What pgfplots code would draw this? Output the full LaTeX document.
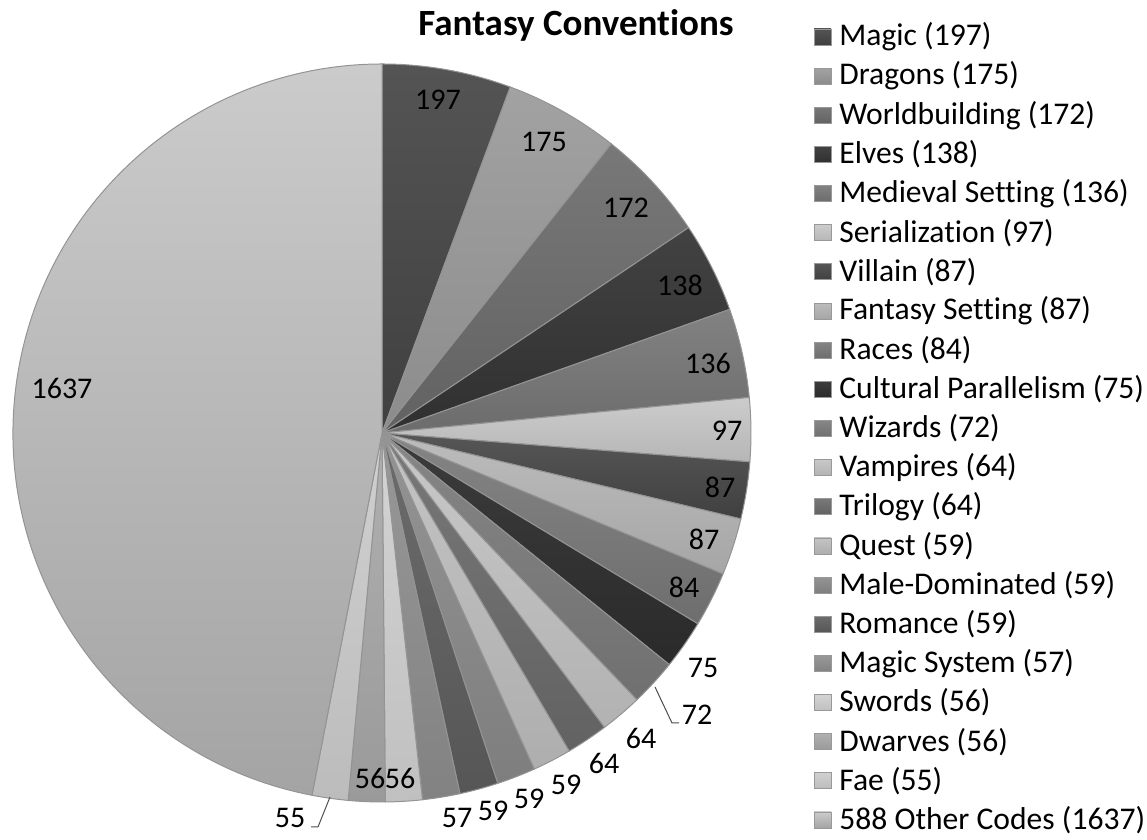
\documentclass[border=0pt]{standalone}
\usepackage{fontspec}
\setmainfont{Carlito}[Ligatures={NoCommon}]
\usepackage{pgfplots}
\usepackage{pgfplotstable}
\pgfplotsset{compat=1.18}

% value, gray level at top and bottom of each slice (0-255), label position in px
\pgfplotstableread[col sep=comma]{
name,value,gtop,gbot,lx,ly
Magic,197,84,64,438,740
Dragons,175,162,140,544,698
Worldbuilding,172,120,98,626,632
Elves,138,66,48,680,555
Medieval Setting,136,130,108,708,477
Serialization,97,204,182,727,409
Villain,87,86,64,720,353
Fantasy Setting,87,188,166,704,301
Races,84,132,110,684,253
Cultural Parallelism,75,60,42,703,172
Wizards,72,134,112,697,125
Vampires,64,200,178,641,102
Trilogy,64,120,98,604,77
Quest,59,196,174,566,55
Male-Dominated,59,148,126,529,41
Romance,59,108,86,493,29
Magic System,57,152,130,457,22
Swords,56,212,192,400,62
Dwarves,56,176,154,370,62
Fae,55,208,188,290,22
588 Other Codes,1637,203,164,62,452
}\pie

\pgfplotstablegetrowsof{\pie}
\pgfmathtruncatemacro\N{\pgfplotsretval-1}
\def\total{0}
\pgfplotsforeachungrouped \i in {0,...,\N}{%
  \pgfplotstablegetelem{\i}{value}\of\pie
  \pgfmathsetmacro\total{\total+\pgfplotsretval}%
}
\newcommand\lfont{\fontsize{15.8}{18}\selectfont}
\newcommand\vfont{\fontsize{15}{17}\selectfont}

\begin{document}
\begin{tikzpicture}
\begin{axis}[x=0.5pt,y=0.5pt,xmin=0,xmax=1147,ymin=0,ymax=840,hide axis,clip=false]
\coordinate (bl) at (axis cs:0,0);
\coordinate (tr) at (axis cs:1147,840);
\def\cum{0}
\pgfplotsforeachungrouped \i in {0,...,\N}{%
  \pgfplotstablegetelem{\i}{value}\of\pie \let\v\pgfplotsretval
  \pgfplotstablegetelem{\i}{gtop}\of\pie \pgfmathsetmacro\pt{100-\pgfplotsretval/2.55}%
  \pgfplotstablegetelem{\i}{gbot}\of\pie \pgfmathsetmacro\pb{100-\pgfplotsretval/2.55}%
  \pgfplotstablegetelem{\i}{name}\of\pie \let\nm\pgfplotsretval
  \pgfplotstablegetelem{\i}{lx}\of\pie \let\lx\pgfplotsretval
  \pgfplotstablegetelem{\i}{ly}\of\pie \let\ly\pgfplotsretval
  \pgfmathsetmacro\a{90-\cum/\total*360}%
  \pgfmathsetmacro\cum{\cum+\v}%
  \pgfmathsetmacro\b{90-\cum/\total*360}%
  \pgfmathsetmacro\ry{803-39.15*\i}%
  \pgfmathsetmacro\rya{\ry-8}%
  \pgfmathsetmacro\ryb{\ry+8}%
  \edef\cmd{%
    \noexpand\shade[top color=black!\pt,bottom color=black!\pb]
      (axis cs:382,407) -- ++(\a:184.5pt) arc[start angle=\a,end angle=\b,radius=184.5pt] -- cycle;
    \noexpand\draw[draw=black!42,line width=0.5pt]
      (axis cs:382,407) -- ++(\a:184.5pt) arc[start angle=\a,end angle=\b,radius=184.5pt] -- cycle;
    \noexpand\node[font=\noexpand\vfont,inner sep=0pt] at (axis cs:\lx,\ly) {\v};
    \noexpand\shade[top color=black!\pt,bottom color=black!\pb,draw=black!40,line width=0.4pt]
      (axis cs:814,\rya) rectangle (axis cs:831,\ryb);
    \noexpand\node[font=\noexpand\lfont,anchor=west,inner sep=0pt] at (axis cs:839,\ry) {\nm\space(\v)};
  }%
  \cmd
}
\draw[black!70,line width=0.5pt] (axis cs:655,153) -- (axis cs:672,117) -- (axis cs:679,117);
\draw[black!70,line width=0.5pt] (axis cs:330,43) -- (axis cs:318,13) -- (axis cs:311,13);
\node[font=\bfseries\fontsize{18.5}{22}\selectfont] at (axis cs:576,815) {Fantasy Conventions};
\end{axis}
\pgfresetboundingbox
\path[use as bounding box] (bl) rectangle (tr);
\end{tikzpicture}
\end{document}
